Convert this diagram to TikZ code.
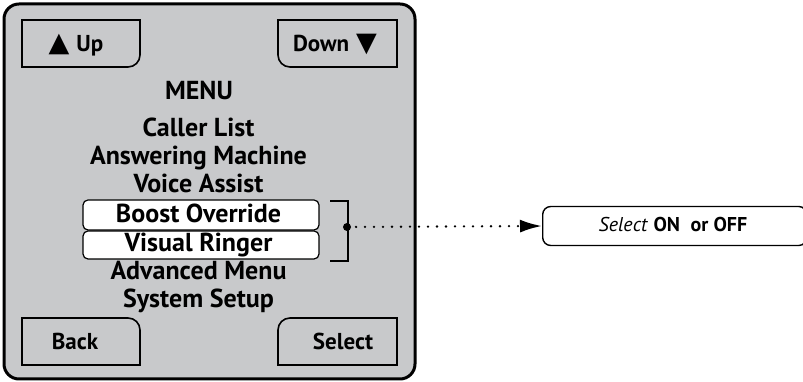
\documentclass[tikz,border=0pt]{standalone}
\usepackage{fontspec}
\setmainfont{PT Sans}
\newfontfamily\symfont{DejaVu Sans}
\usetikzlibrary{arrows.meta}
\definecolor{screengray}{RGB}{200,201,203}

\tikzset{
  item/.style={font=\fontsize{26}{28}\selectfont\bfseries, inner sep=0pt, anchor=base},
  key/.style={font=\fontsize{23}{26}\selectfont\bfseries, inner sep=0pt, anchor=base},
  btn/.style={line width=1.6pt, fill=screengray},
  selbox/.style={draw, line width=1.2pt, fill=white, rounded corners=5pt,
    minimum width=236pt, inner sep=0pt},
  optbox/.style={draw, line width=1.4pt, fill=white, rounded corners=8pt,
    minimum width=264pt, minimum height=39pt, inner sep=0pt}
}

\begin{document}
\begin{tikzpicture}[x=1pt,y=1pt]
\useasboundingbox (0,0) rectangle (803,382);
\clip (0,0) rectangle (803,382);

% screen
\draw[line width=3pt, rounded corners=15pt, fill=screengray] (4,3) rectangle (415,378);

% soft keys
\draw[btn] (22,362) -- (140,362) -- (140,327) arc[start angle=0,end angle=-90,radius=12] -- (22,315) -- cycle;
\draw[btn] (397,362) -- (278,362) -- (278,327) arc[start angle=180,end angle=270,radius=12] -- (397,315) -- cycle;
\draw[btn] (22,17) -- (140,17) -- (140,52) arc[start angle=0,end angle=90,radius=12] -- (22,64) -- cycle;
\draw[btn] (397,17) -- (278,17) -- (278,52) arc[start angle=180,end angle=90,radius=12] -- (397,64) -- cycle;

\node[key] (up) at (76,330) {{\symfont\fontsize{27}{28}\selectfont ▲}\hspace{7pt}Up};
\node[key] (down) at (335,330) {Down\hspace{7pt}{\symfont\fontsize{27}{28}\selectfont ▼}};
\node[key] (back) at (75,32) {Back};
\node[key] (select) at (343,32) {Select};

% menu
\node[item] (title) at (199,282) {MENU};
\node[item] (caller) at (198.5,245) {Caller List};
\node[item] (answering) at (198.5,217) {Answering Machine};
\node[item] (voice) at (198.5,189) {Voice Assist};
\node[selbox, minimum height=30pt] (boostbox) at (201,167) {};
\node[item] (boost) at (198.5,159) {Boost Override};
\node[selbox, minimum height=28pt] (visualbox) at (201,137) {};
\node[item] (visual) at (198.5,130) {Visual Ringer};
\node[item] (advanced) at (198.5,102) {Advanced Menu};
\node[item] (setup) at (198.5,74) {System Setup};

% bracket and option
\draw[line width=1.8pt] (330,181) -- (348,181) -- (348,121) -- (330,121);
\coordinate (hub) at (347,155);
\fill (hub) circle (4);
\node[optbox, anchor=west] (onoff) at (542,156) {};
\node[font=\fontsize{20}{24}\selectfont, inner sep=0pt, anchor=base] (onofftext) at (673,150)
  {\textit{Select}~\textbf{ON}~~\textbf{or~OFF}};
\draw[line width=2.6pt, line cap=round, dash pattern=on 0pt off 9pt,
  -{Latex[length=22pt,width=13pt]}] (hub) -- (onoff.west);

\end{tikzpicture}
\end{document}
